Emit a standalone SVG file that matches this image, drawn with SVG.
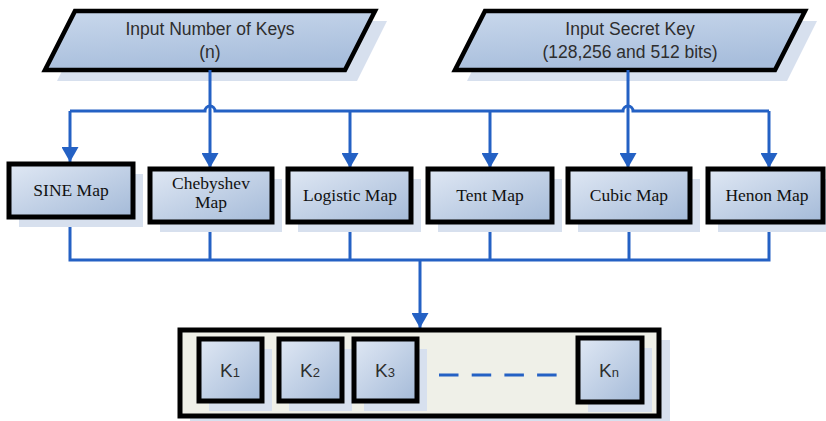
<svg xmlns="http://www.w3.org/2000/svg" width="826" height="421" viewBox="0 0 826 421">
  <defs>
    <linearGradient id="boxFill" x1="0" y1="0" x2="1" y2="1">
      <stop offset="0" stop-color="#e0e8f4"/>
      <stop offset="1" stop-color="#a4bad8"/>
    </linearGradient>
    <linearGradient id="ioFill" x1="0" y1="0" x2="0.3" y2="1">
      <stop offset="0" stop-color="#c9d8ec"/>
      <stop offset="1" stop-color="#a8bedc"/>
    </linearGradient>
    <marker id="arrow" viewBox="0 0 15 17" refX="15" refY="8.5" markerWidth="15" markerHeight="17" markerUnits="userSpaceOnUse" orient="auto">
      <path d="M0,0 L15,8.5 L0,17 Z" fill="#2461c4"/>
    </marker>
  </defs>
  <style>
    .shadow { fill: #d7e0ee; }
    .io { fill: url(#ioFill); stroke: #000; stroke-width: 4.5; stroke-linejoin: miter; }
    .box { fill: url(#boxFill); stroke: #000; stroke-width: 5; }
    .io-text { font-family: "Liberation Sans", Arial, sans-serif; font-size: 17.5px; fill: #2e2e2e; text-anchor: middle; }
    .map-text { font-family: "Liberation Serif", "Times New Roman", serif; font-size: 17.5px; fill: #111; text-anchor: middle; }
    .k-text { font-family: "Liberation Sans", Arial, sans-serif; font-size: 19px; fill: #2e2e2e; text-anchor: middle; }
    .k-sub { font-size: 13px; }
    .wire { fill: none; stroke: #2461c4; stroke-width: 3; }
    .arrowed { marker-end: url(#arrow); }
  </style>

  <rect width="826" height="421" fill="#ffffff"/>

  <!-- Inputs -->
  <g id="input-keys">
    <polygon class="shadow" points="87,21 387,21 357,81 57,81"/>
    <polygon class="io" points="75,11 375,11 345,70 45,70"/>
    <text class="io-text" x="210" y="35">Input Number of Keys</text>
    <text class="io-text" x="210" y="58">(n)</text>
  </g>
  <g id="input-secret">
    <polygon class="shadow" points="497,21 817,21 787,81 467,81"/>
    <polygon class="io" points="485,11 805,11 775,70 455,70"/>
    <text class="io-text" x="630" y="35">Input Secret Key</text>
    <text class="io-text" x="630" y="58">(128,256 and 512 bits)</text>
  </g>

  <!-- Connectors -->
  <g id="connectors">
    <!-- distribution bus with hops over the two input drops -->
    <path class="wire" d="M70,111 H205 A5,5 0 0 1 215,111 H623 A5,5 0 0 1 633,111 H769"/>
    <path class="wire arrowed" d="M70,111 V162"/>
    <path class="wire arrowed" d="M210,70 V168"/>
    <path class="wire arrowed" d="M350,111 V168"/>
    <path class="wire arrowed" d="M490,111 V168"/>
    <path class="wire arrowed" d="M628,70 V168"/>
    <path class="wire arrowed" d="M769,111 V168"/>
    <!-- collection bus -->
    <path class="wire" d="M70,217 V260 H769 V222"/>
    <path class="wire" d="M210,222 V260"/>
    <path class="wire" d="M350,222 V260"/>
    <path class="wire" d="M490,222 V260"/>
    <path class="wire" d="M629,222 V260"/>
    <path class="wire arrowed" d="M420,260 V328"/>
  </g>

  <!-- Chaotic maps -->
  <g id="sine-map">
    <rect class="shadow" x="19" y="174" width="124" height="53"/>
    <rect class="box" x="9" y="164" width="124" height="53"/>
    <text class="map-text" x="71" y="196">SINE Map</text>
  </g>
  <g id="chebyshev-map">
    <rect class="shadow" x="160" y="179" width="122" height="53"/>
    <rect class="box" x="150" y="169" width="122" height="53"/>
    <text class="map-text" x="211" y="189">Chebyshev</text>
    <text class="map-text" x="211" y="208">Map</text>
  </g>
  <g id="logistic-map">
    <rect class="shadow" x="298" y="179" width="123" height="53"/>
    <rect class="box" x="288" y="169" width="123" height="53"/>
    <text class="map-text" x="350" y="201">Logistic Map</text>
  </g>
  <g id="tent-map">
    <rect class="shadow" x="438" y="179" width="124" height="53"/>
    <rect class="box" x="428" y="169" width="124" height="53"/>
    <text class="map-text" x="490" y="201">Tent Map</text>
  </g>
  <g id="cubic-map">
    <rect class="shadow" x="578" y="179" width="122" height="53"/>
    <rect class="box" x="568" y="169" width="122" height="53"/>
    <text class="map-text" x="629" y="201">Cubic Map</text>
  </g>
  <g id="henon-map">
    <rect class="shadow" x="718" y="179" width="108" height="53"/>
    <rect class="box" x="708" y="169" width="115" height="53"/>
    <text class="map-text" x="767" y="201">Henon Map</text>
  </g>

  <!-- Key sequence -->
  <g id="key-sequence">
    <rect class="shadow" x="190" y="340" width="480" height="81"/>
    <rect x="180" y="330" width="479" height="86" fill="#eff0e8" stroke="#000" stroke-width="5"/>
    <g id="k1">
      <rect class="shadow" x="209" y="349" width="63" height="62"/>
      <rect class="box" x="199" y="339" width="63" height="62"/>
      <text class="k-text" x="230" y="377">K<tspan class="k-sub">1</tspan></text>
    </g>
    <g id="k2">
      <rect class="shadow" x="289" y="349" width="63" height="62"/>
      <rect class="box" x="279" y="339" width="63" height="62"/>
      <text class="k-text" x="310" y="377">K<tspan class="k-sub">2</tspan></text>
    </g>
    <g id="k3">
      <rect class="shadow" x="364" y="349" width="63" height="62"/>
      <rect class="box" x="354" y="339" width="63" height="62"/>
      <text class="k-text" x="385" y="377">K<tspan class="k-sub">3</tspan></text>
    </g>
    <line x1="439" y1="375" x2="557" y2="375" stroke="#2461c4" stroke-width="3" stroke-dasharray="19.5 13.2"/>
    <g id="kn">
      <rect class="shadow" x="588" y="348" width="64" height="64"/>
      <rect class="box" x="578" y="338" width="64" height="64"/>
      <text class="k-text" x="609" y="377">K<tspan class="k-sub">n</tspan></text>
    </g>
  </g>
</svg>
